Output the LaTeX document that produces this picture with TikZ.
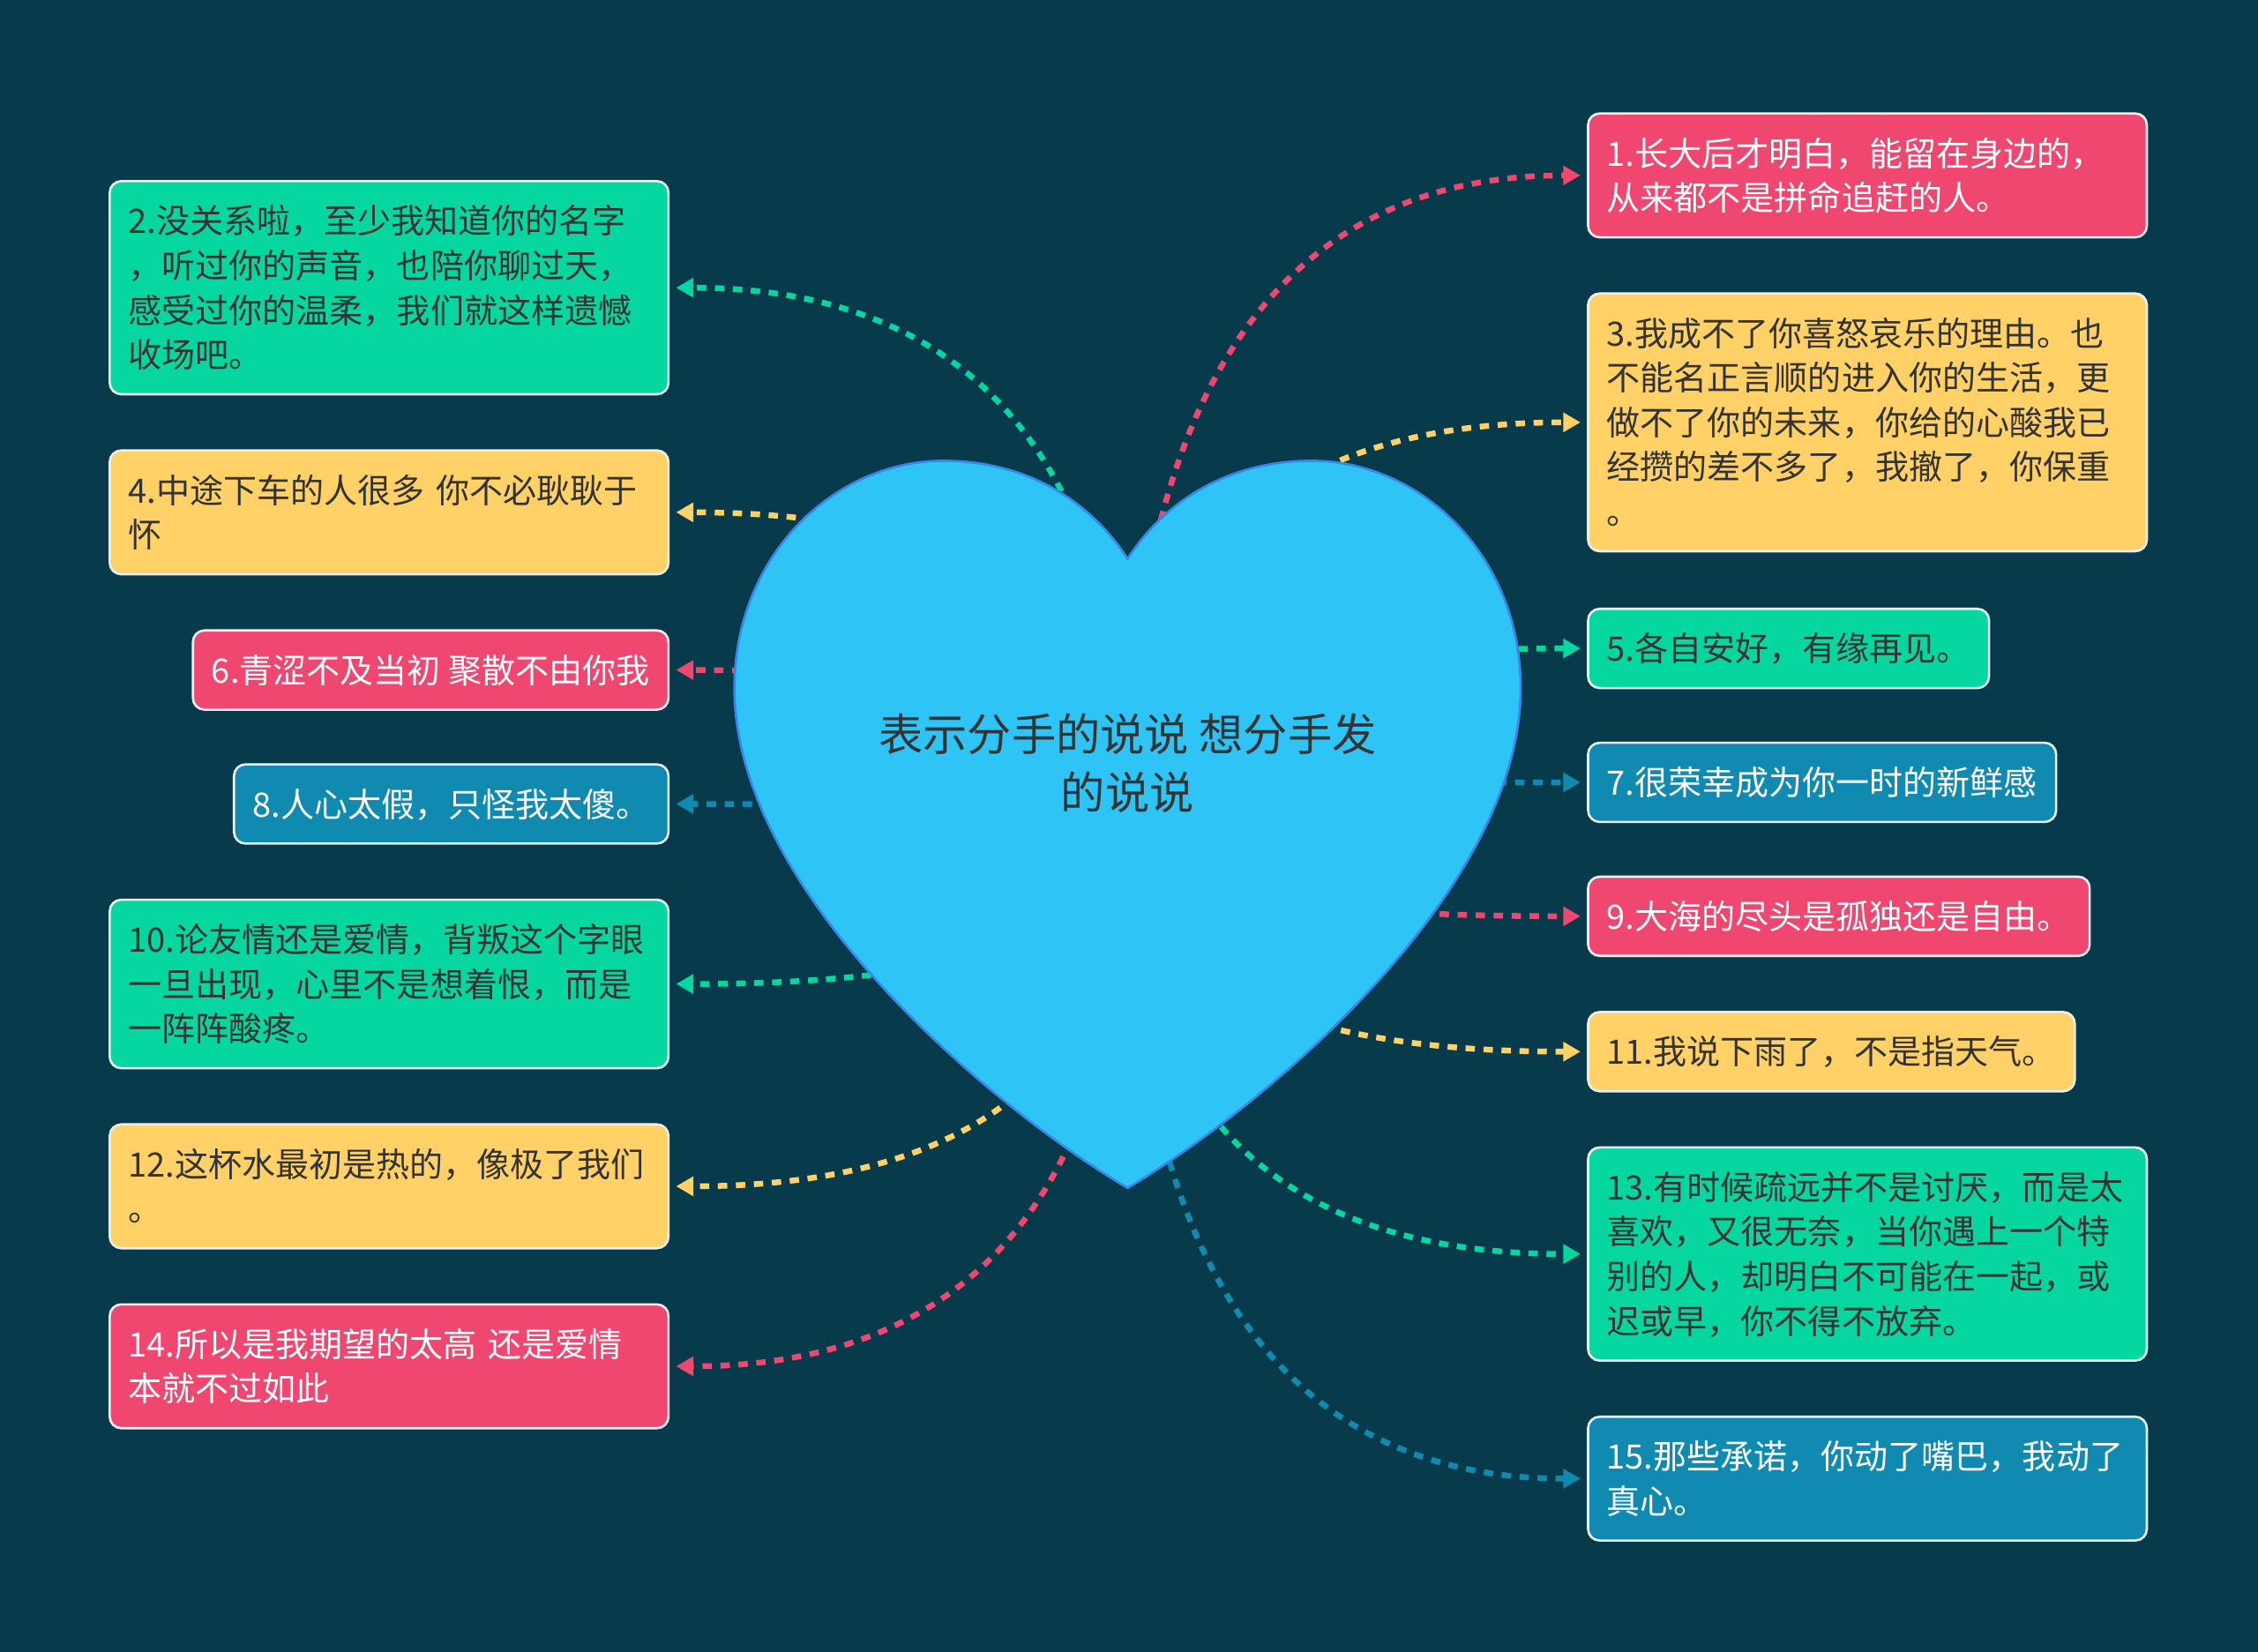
\documentclass[tikz,border=0pt]{standalone}
\usepackage{fontspec}
\setmainfont{Noto Sans CJK SC}
\usetikzlibrary{arrows.meta, calc}
\definecolor{bg}{HTML}{073B4C}
\definecolor{rose}{HTML}{EF476F}
\definecolor{sun}{HTML}{FFD166}
\definecolor{mint}{HTML}{06D6A0}
\definecolor{ocean}{HTML}{118AB2}
\definecolor{heartfill}{HTML}{2EC4F6}
\definecolor{heartline}{HTML}{3A86E8}
\definecolor{ink}{HTML}{333333}
\newcommand{\lstrut}{\rule[-6.6pt]{0pt}{31pt}}

\begin{document}
\begin{tikzpicture}[
  x=1pt, y=1pt,
  card/.style={rounded corners=8pt, draw=white!92!bg, line width=1.6pt, inner xsep=13pt, inner ysep=12pt,
    font=\fontsize{23.3}{31}\selectfont, execute at begin node=\lstrut, execute at end node=\lstrut},
  wide/.style={text width=362pt, align=left},
  rcard/.style={card, fill=rose, text=white},
  ycard/.style={card, fill=sun, text=ink},
  gcard/.style={card, fill=mint, text=ink},
  bcard/.style={card, fill=ocean, text=white},
  link/.style={-{Triangle[length=12pt, width=13pt]}, line width=4pt, dash pattern=on 6.5pt off 6pt, shorten >=4.5pt},
  heart/.style={fill=heartfill, draw=heartline, line width=1.6pt},
  title/.style={font=\fontsize{30.8}{41}\selectfont, text=ink, align=center},
]

% ---- background, also fixes the page size ----
\fill[bg] (0,0) rectangle (1568,-1147);

% ---- right column ----
\node[rcard, wide, anchor=north west] (n1) at (1102,-78) {1.长大后才明白，能留在身边的，\\从来都不是拼命追赶的人。};
\node[ycard, wide, anchor=north west] (n3) at (1102,-203) {3.我成不了你喜怒哀乐的理由。也\\不能名正言顺的进入你的生活，更\\做不了你的未来，你给的心酸我已\\经攒的差不多了，我撤了，你保重\\。};
\node[gcard, anchor=north west] (n5) at (1102,-422) {5.各自安好，有缘再见。};
\node[bcard, anchor=north west] (n7) at (1102,-515) {7.很荣幸成为你一时的新鲜感};
\node[rcard, anchor=north west] (n9) at (1102,-608) {9.大海的尽头是孤独还是自由。};
\node[ycard, anchor=north west] (n11) at (1102,-702) {11.我说下雨了，不是指天气。};
\node[gcard, wide, anchor=north west] (n13) at (1102,-796) {13.有时候疏远并不是讨厌，而是太\\喜欢，又很无奈，当你遇上一个特\\别的人，却明白不可能在一起，或\\迟或早，你不得不放弃。};
\node[bcard, wide, anchor=north west] (n15) at (1102,-983) {15.那些承诺，你动了嘴巴，我动了\\真心。};

% ---- left column ----
\node[gcard, wide, anchor=north east] (n2) at (465,-125) {2.没关系啦，至少我知道你的名字\\，听过你的声音，也陪你聊过天，\\感受过你的温柔，我们就这样遗憾\\收场吧。};
\node[ycard, wide, anchor=north east] (n4) at (465,-312) {4.中途下车的人很多~你不必耿耿于\\怀};
\node[rcard, anchor=north east] (n6) at (465,-437) {6.青涩不及当初~聚散不由你我};
\node[bcard, anchor=north east] (n8) at (465,-530) {8.人心太假，只怪我太傻。};
\node[gcard, wide, anchor=north east] (n10) at (465,-624) {10.论友情还是爱情，背叛这个字眼\\一旦出现，心里不是想着恨，而是\\一阵阵酸疼。};
\node[ycard, wide, anchor=north east] (n12) at (465,-780) {12.这杯水最初是热的，像极了我们\\。};
\node[rcard, wide, anchor=north east] (n14) at (465,-905) {14.所以是我期望的太高~还是爱情\\本就不过如此};

% ---- links: quadratic curves out of the heart, hidden under it ----
\coordinate (hc) at (783,-572);
\foreach \n/\col in {n1/rose, n3/sun, n5/mint, n7/ocean, n9/rose, n11/sun, n13/mint, n15/ocean}
  \draw[link, \col] (hc) .. controls ($(hc)!2/3!(hc |- \n.west)$) and ($(\n.west)!2/3!(hc |- \n.west)$) .. (\n.west);
\foreach \n/\col in {n2/mint, n4/sun, n6/rose, n8/ocean, n10/mint, n12/sun, n14/rose}
  \draw[link, \col] (hc) .. controls ($(hc)!2/3!(hc |- \n.east)$) and ($(\n.east)!2/3!(hc |- \n.east)$) .. (\n.east);

% ---- heart ----
\path[heart] (783,-388) .. controls (755,-345) and (710,-320) .. (655,-320)
  .. controls (580,-320) and (510,-385) .. (510,-478)
  .. controls (510,-620) and (690,-770) .. (783,-825)
  .. controls (876,-770) and (1056,-620) .. (1056,-478)
  .. controls (1056,-385) and (986,-320) .. (911,-320)
  .. controls (856,-320) and (811,-345) .. (783,-388) -- cycle;
\node[title] (hub) at (783,-530) {表示分手的说说~想分手发\\的说说};

\end{tikzpicture}
\end{document}
